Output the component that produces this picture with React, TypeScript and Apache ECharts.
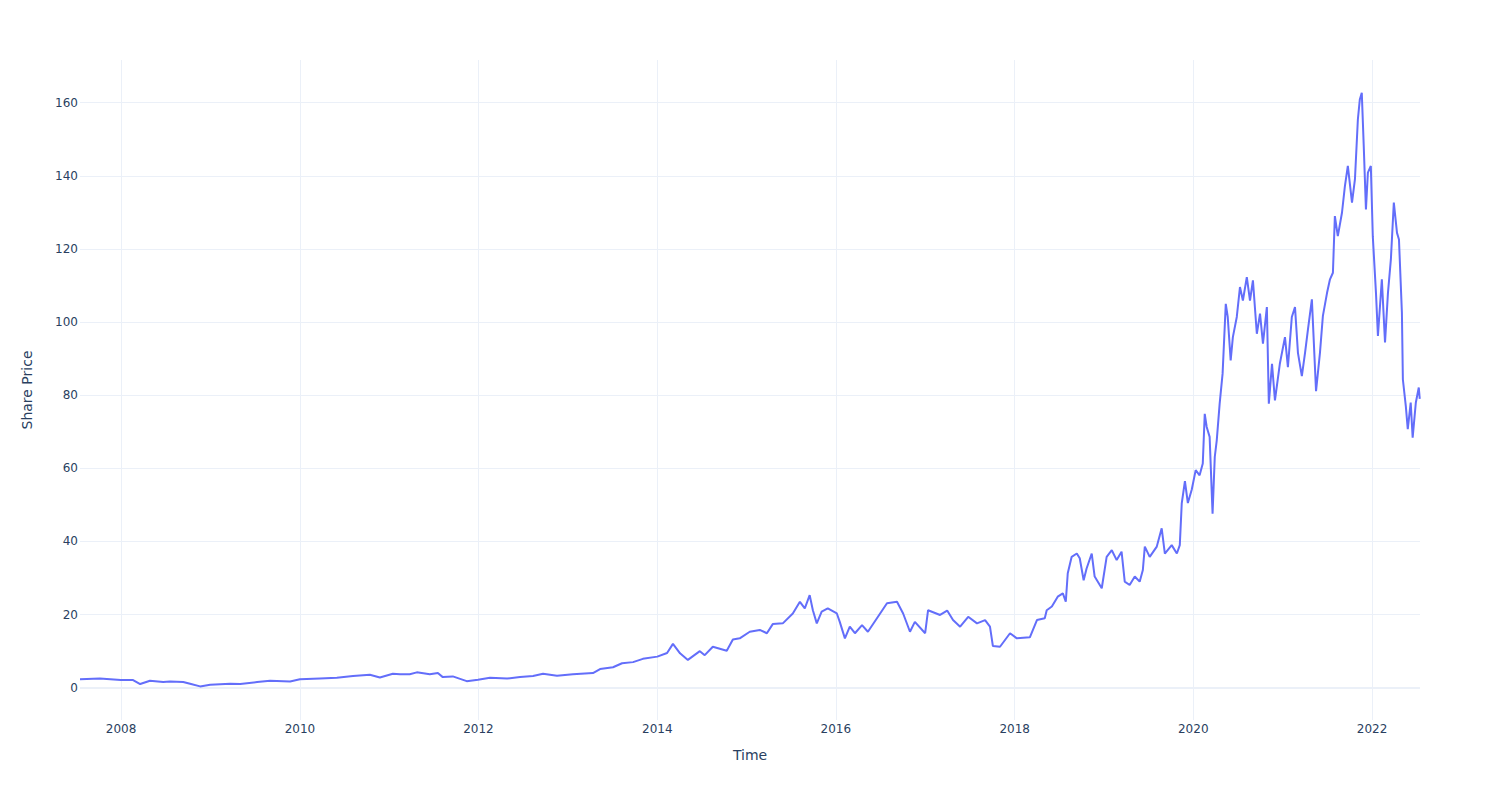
import { useEffect, useRef } from "react";
import * as echarts from "echarts";

const dates: string[] = [
  "2007-07-17", "2007-10-06", "2007-12-31", "2008-02-19", "2008-03-19", "2008-04-28", "2008-06-21", "2008-07-19",
  "2008-09-11", "2008-10-09", "2008-11-19", "2008-12-30", "2009-03-22", "2009-05-02", "2009-07-10", "2009-09-01",
  "2009-11-22", "2010-01-01", "2010-03-24", "2010-06-01", "2010-08-06", "2010-10-14", "2010-11-24", "2011-01-16",
  "2011-02-14", "2011-03-26", "2011-04-24", "2011-06-16", "2011-07-19", "2011-08-08", "2011-09-18", "2011-11-14",
  "2011-12-30", "2012-02-17", "2012-04-27", "2012-06-19", "2012-08-11", "2012-09-21", "2012-11-17", "2013-01-21",
  "2013-04-13", "2013-05-12", "2013-07-04", "2013-08-10", "2013-09-24", "2013-11-03", "2014-01-01", "2014-02-10",
  "2014-03-06", "2014-04-04", "2014-05-06", "2014-06-24", "2014-07-14", "2014-08-16", "2014-10-12", "2014-11-06",
  "2014-12-04", "2015-01-14", "2015-02-24", "2015-03-25", "2015-04-18", "2015-05-29", "2015-07-09", "2015-08-07",
  "2015-08-27", "2015-09-16", "2015-09-29", "2015-10-15", "2015-11-04", "2015-11-29", "2016-01-05", "2016-01-17",
  "2016-02-07", "2016-02-27", "2016-03-19", "2016-04-17", "2016-05-11", "2016-06-17", "2016-07-28", "2016-09-07",
  "2016-10-02", "2016-10-30", "2016-11-19", "2016-12-31", "2017-01-12", "2017-03-02", "2017-03-31", "2017-04-24",
  "2017-05-23", "2017-06-25", "2017-07-31", "2017-09-02", "2017-09-22", "2017-10-04", "2017-11-02", "2017-12-13",
  "2018-01-10", "2018-03-04", "2018-04-02", "2018-05-04", "2018-05-12", "2018-06-02", "2018-06-26", "2018-07-17",
  "2018-07-29", "2018-08-06", "2018-08-22", "2018-09-12", "2018-09-24", "2018-10-10", "2018-10-22", "2018-11-12",
  "2018-11-24", "2018-12-23", "2019-01-12", "2019-02-02", "2019-02-22", "2019-03-14", "2019-03-27", "2019-04-16",
  "2019-05-07", "2019-05-27", "2019-06-09", "2019-06-17", "2019-07-07", "2019-08-05", "2019-08-25", "2019-09-07",
  "2019-10-05", "2019-10-26", "2019-11-07", "2019-11-15", "2019-11-28", "2019-12-10", "2019-12-26", "2020-01-11",
  "2020-01-27", "2020-02-09", "2020-02-17", "2020-02-25", "2020-03-08", "2020-03-20", "2020-03-29", "2020-04-06",
  "2020-04-18", "2020-04-30", "2020-05-13", "2020-05-21", "2020-06-02", "2020-06-11", "2020-06-27", "2020-07-10",
  "2020-07-22", "2020-08-07", "2020-08-20", "2020-09-01", "2020-09-17", "2020-09-30", "2020-10-12", "2020-10-28",
  "2020-11-05", "2020-11-18", "2020-11-30", "2020-12-20", "2021-01-10", "2021-01-22", "2021-02-07", "2021-02-20",
  "2021-03-04", "2021-03-20", "2021-04-02", "2021-04-14", "2021-04-30", "2021-05-17", "2021-06-02", "2021-06-14",
  "2021-07-01", "2021-07-13", "2021-07-25", "2021-08-02", "2021-08-14", "2021-08-31", "2021-09-12", "2021-09-24",
  "2021-10-11", "2021-10-23", "2021-11-04", "2021-11-12", "2021-11-20", "2021-11-28", "2021-12-07", "2021-12-15",
  "2021-12-27", "2022-01-04", "2022-01-17", "2022-01-25", "2022-02-10", "2022-02-23", "2022-03-07", "2022-03-19",
  "2022-03-31", "2022-04-13", "2022-04-21", "2022-05-03", "2022-05-07", "2022-05-19", "2022-05-27", "2022-06-08",
  "2022-06-16", "2022-06-29", "2022-07-11", "2022-07-15",
];

const prices: number[] = [
  2.3, 2.55, 2.1, 2.1, 1.0, 1.9, 1.55, 1.7,
  1.55, 1.1, 0.36, 0.8, 1.1, 1.0, 1.55, 1.9,
  1.7, 2.3, 2.55, 2.7, 3.2, 3.55, 2.8, 3.8,
  3.7, 3.7, 4.2, 3.7, 4.0, 2.9, 3.1, 1.8,
  2.2, 2.7, 2.5, 2.9, 3.2, 3.8, 3.3, 3.7,
  4.0, 5.1, 5.6, 6.7, 7.0, 7.9, 8.5, 9.5,
  12.0, 9.4, 7.6, 10.0, 8.9, 11.2, 10.1, 13.2,
  13.5, 15.3, 15.8, 14.9, 17.4, 17.6, 20.3, 23.5,
  21.7, 25.3, 21.2, 17.6, 20.8, 21.7, 20.3, 18.0,
  13.5, 16.7, 14.9, 17.1, 15.3, 19.0, 23.1, 23.5,
  20.3, 15.3, 18.0, 14.9, 21.2, 19.9, 21.1, 18.5,
  16.7, 19.4, 17.6, 18.5, 16.7, 11.4, 11.2, 14.9,
  13.5, 13.8, 18.5, 19.0, 21.2, 22.2, 24.9, 25.8,
  23.5, 31.3, 35.8, 36.7, 35.4, 29.4, 32.6, 36.7,
  30.4, 27.2, 35.8, 37.6, 34.9, 37.2, 29.0, 28.1,
  30.4, 29.0, 32.2, 38.6, 35.8, 38.6, 43.6, 36.7,
  39.0, 36.7, 39.0, 50.4, 56.5, 50.5, 54.2, 59.5,
  58.1, 61.3, 74.9, 71.3, 68.6, 47.6, 63.1, 67.6,
  77.7, 85.9, 105.0, 101.4, 89.5, 95.9, 101.4, 109.6,
  105.9, 112.3, 105.9, 111.4, 96.8, 102.3, 94.1, 104.1,
  77.7, 88.6, 78.6, 88.6, 95.9, 87.7, 101.4, 104.1,
  91.6, 85.2, 91.6, 98.0, 106.2, 81.1, 91.6, 101.7,
  108.0, 111.7, 113.5, 129.0, 123.5, 129.9, 137.2, 142.7,
  132.7, 139.0, 155.4, 160.9, 162.7, 148.2, 130.8, 140.9,
  142.7, 123.5, 108.0, 96.2, 111.7, 94.4, 108.0, 117.2,
  132.7, 124.4, 122.6, 102.6, 84.3, 77.0, 70.7, 78.0,
  68.4, 78.0, 82.1, 79.0,
];

const xTickDates: string[] = [
  "2008-01-01", "2010-01-01", "2012-01-01", "2014-01-01", "2016-01-01", "2018-01-01", "2020-01-01", "2022-01-01",
];
const yTicks: number[] = [0, 20, 40, 60, 80, 100, 120, 140, 160];
const xRange: string[] = ["2007-07-17", "2022-07-16"];
const yRange: number[] = [-8.83, 171.68];

const toTs = (s: string): number => {
  const [y, m, d] = s.split("-").map(Number);
  return Date.UTC(y, m - 1, d);
};

const FONT = "'DejaVu Sans', sans-serif";
const TEXT = "#2a3f5f";
const GRID = "#EBF0F8";

export default function App() {
  const ref = useRef<HTMLDivElement>(null);

  useEffect(() => {
    if (!ref.current) return;
    const chart = echarts.init(ref.current, undefined, { renderer: "svg" });
    const xTicks = xTickDates.map(toTs);
    chart.setOption({
      animation: false,
      backgroundColor: "#ffffff",
      textStyle: { fontFamily: FONT },
      grid: { left: 80, right: 80, top: 60, bottom: 80, containLabel: false },
      xAxis: {
        type: "value",
        min: toTs(xRange[0]),
        max: toTs(xRange[1]),
        scale: true,
        name: "Time",
        nameLocation: "middle",
        nameGap: 28,
        nameTextStyle: { color: TEXT, fontSize: 14, fontFamily: FONT },
        axisLine: { show: false },
        axisTick: { show: false, customValues: xTicks },
        axisLabel: {
          customValues: xTicks,
          formatter: (v: number) => String(new Date(v).getUTCFullYear()),
          color: TEXT,
          fontSize: 12,
          fontFamily: FONT,
          margin: 3,
        },
        splitLine: { show: true, lineStyle: { color: GRID, width: 1 } },
      },
      yAxis: {
        type: "value",
        min: yRange[0],
        max: yRange[1],
        name: "Share Price",
        nameLocation: "middle",
        nameGap: 46,
        nameTextStyle: { color: TEXT, fontSize: 14, fontFamily: FONT },
        axisLine: { show: false },
        axisTick: { show: false, customValues: yTicks },
        axisLabel: {
          customValues: yTicks,
          color: TEXT,
          fontSize: 12,
          fontFamily: FONT,
          margin: 2,
        },
        splitLine: { show: true, lineStyle: { color: GRID, width: 1 } },
      },
      series: [
        {
          type: "line",
          data: dates.map((d, i) => [toTs(d), prices[i]]),
          showSymbol: false,
          symbol: "none",
          lineStyle: { color: "#636efa", width: 2 },
          z: 3,
          markLine: {
            silent: true,
            symbol: "none",
            z: 1,
            label: { show: false },
            lineStyle: { color: GRID, width: 2, type: "solid" },
            data: [{ yAxis: 0 }],
          },
        },
      ],
    });
    return () => chart.dispose();
  }, []);

  return (
    <div
      ref={ref}
      style={{ position: "fixed", left: 0, top: 0, width: 1500, height: 800, background: "#fff" }}
    />
  );
}
